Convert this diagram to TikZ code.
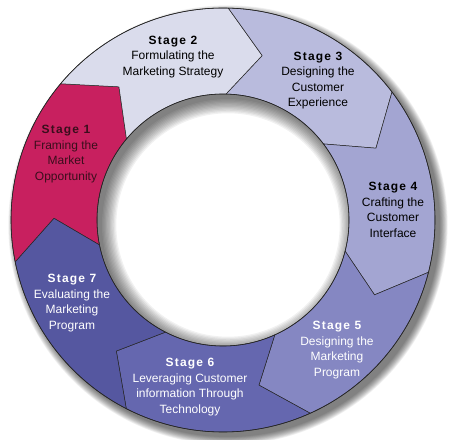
\documentclass[tikz,border=0pt]{standalone}
\usepackage{fontspec}
\setmainfont{Liberation Sans}
\newfontfamily\stagefont[LetterSpace=10]{Liberation Sans Bold}
\definecolor{cA}{HTML}{C8205F}
\definecolor{cB}{HTML}{DADCEC}
\definecolor{cC}{HTML}{B9BBDD}
\definecolor{cD}{HTML}{A3A5D2}
\definecolor{cE}{HTML}{8587C2}
\definecolor{cF}{HTML}{6567AF}
\definecolor{cG}{HTML}{5557A0}
\definecolor{tA}{HTML}{3A0E1C}
\tikzset{
  seg/.style={draw=black!85, line width=0.5pt, line join=round},
  lab/.style={align=center, inner sep=0pt, font=\fontsize{12}{15.5}\selectfont},
}
\newcommand{\stagetxt}[2]{{\stagefont Stage #1}\\#2}
\begin{document}
\begin{tikzpicture}[x=1pt,y=1pt]
\useasboundingbox (0,0) rectangle (460,439);
\def\R{212}\def\r{126}\def\m{169}\def\d{12}
\begin{scope}[shift={(223,219)}]
  % soft shadow
  \foreach \i in {0,...,11}{
    \fill[black, opacity=0.055, even odd rule, shift={(5,-5)}]
      (0,0) circle[radius=\R+\i*0.7] (0,0) circle[radius=\r-\i*1.3];
  }
  % segments
  \foreach \s/\c in {1/cA,2/cB,3/cC,4/cD,5/cE,6/cF,7/cG}{
    \pgfmathsetmacro{\f}{140-51.4286*(\s-1)}
    \pgfmathsetmacro{\b}{\f+51.4286}
    \pgfmathsetmacro{\ft}{\f-\d}
    \pgfmathsetmacro{\bt}{\b-\d}
    \filldraw[seg, fill=\c] (\b:\R) arc[start angle=\b, end angle=\f, radius=\R]
      -- (\ft:\m) -- (\f:\r) arc[start angle=\f, end angle=\b, radius=\r]
      -- (\bt:\m) -- cycle;
  }
  \draw[black!85, line width=0.6pt] (0,0) circle[radius=\R];
  \draw[black!85, line width=0.6pt] (0,0) circle[radius=\r];
\end{scope}
\node[lab, text=tA] (s1) at (66,285) {\stagetxt{1}{Framing the\\Market\\Opportunity}};
\node[lab, text=black] (s2) at (173,382) {\stagetxt{2}{Formulating the\\Marketing Strategy}};
\node[lab, text=black] (s3) at (318,358.5) {\stagetxt{3}{Designing the\\Customer\\Experience}};
\node[lab, text=black] (s4) at (393,229) {\stagetxt{4}{Crafting the\\Customer\\Interface}};
\node[lab, text=white] (s5) at (337,89) {\stagetxt{5}{Designing the\\Marketing\\Program}};
\node[lab, text=white] (s6) at (190,52) {\stagetxt{6}{Leveraging Customer\\information Through\\Technology}};
\node[lab, text=white] (s7) at (72,136) {\stagetxt{7}{Evaluating the\\Marketing\\Program}};
\end{tikzpicture}
\end{document}
